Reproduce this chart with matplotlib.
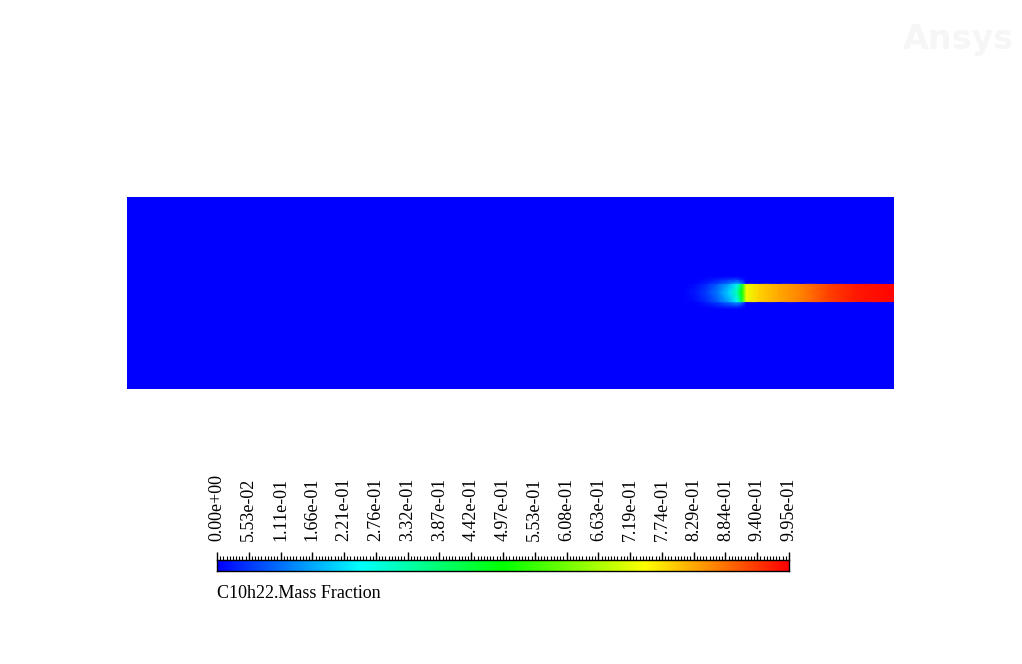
import numpy as np
import matplotlib.pyplot as plt
from matplotlib.colors import LinearSegmentedColormap
from matplotlib.ticker import FixedLocator

# domain 200 x 50 (mm), jet enters from the right
x_nodes = [0, 145, 148, 151, 154, 157, 159, 160.3, 161.5, 165, 170, 176, 183, 190, 200]
y_nodes = [0, 20.8, 21.6, 22.65, 22.8, 25.1, 27.4, 27.55, 28.6, 29.4, 50]

row_far = [0, 0, 0, 0, 0, 0, 0, 0, 0, 0, 0, 0, 0, 0, 0]
row_halo = [0, 0, 0, 0.01, 0.03, 0.05, 0.06, 0.03, 0, 0, 0, 0, 0, 0, 0]
row_out = [0, 0, 0, 0.03, 0.06, 0.11, 0.15, 0.12, 0, 0, 0, 0, 0, 0, 0]
row_edge = [0, 0, 0.01, 0.04, 0.09, 0.16, 0.24, 0.42, 0.72, 0.79, 0.83, 0.87, 0.93, 0.97, 0.99]
row_core = [0, 0, 0.02, 0.06, 0.12, 0.21, 0.33, 0.5, 0.73, 0.79, 0.83, 0.87, 0.93, 0.97, 0.99]

field = [row_far, row_far, row_halo, row_out, row_edge, row_core,
         row_edge, row_out, row_halo, row_far, row_far]

vmin, vmax = 0.0, 0.995
tick_labels = ['0.00e+00', '5.53e-02', '1.11e-01', '1.66e-01', '2.21e-01', '2.76e-01',
               '3.32e-01', '3.87e-01', '4.42e-01', '4.97e-01', '5.53e-01', '6.08e-01',
               '6.63e-01', '7.19e-01', '7.74e-01', '8.29e-01', '8.84e-01', '9.40e-01',
               '9.95e-01']

cmap = LinearSegmentedColormap.from_list(
    'fluent', [(0, (0, 0, 1)), (0.25, (0, 1, 1)), (0.5, (0, 1, 0)),
               (0.75, (1, 1, 0)), (1, (1, 0, 0))])

plt.rcParams['font.family'] = ['Liberation Serif', 'DejaVu Serif']

fig = plt.figure(figsize=(10.22, 6.64), dpi=100)
W, H = 1022, 664

# contour area
ax = fig.add_axes([127 / W, 1 - 389 / H, 767 / W, 192 / H])
X, Y = np.meshgrid(x_nodes, y_nodes)
ax.pcolormesh(X, Y, np.array(field), cmap=cmap, vmin=vmin, vmax=vmax, shading='gouraud')
ax.set_xlim(0, 200)
ax.set_ylim(0, 50)
ax.axis('off')

# colour bar
cax = fig.add_axes([217 / W, 1 - 571 / H, 572 / W, 11 / H])
grad = np.linspace(vmin, vmax, 512).reshape(1, -1)
cax.imshow(grad, cmap=cmap, aspect='auto', extent=[vmin, vmax, 0, 1])
cax.set_xlim(vmin, vmax)
ticks = np.linspace(vmin, vmax, len(tick_labels))
cax.xaxis.tick_top()
cax.set_xticks(ticks)
cax.set_xticklabels(tick_labels, rotation=90, fontsize=13)
cax.xaxis.set_minor_locator(FixedLocator(np.linspace(vmin, vmax, 181)))
cax.tick_params(axis='x', which='major', length=6, width=1, pad=8, direction='out')
cax.tick_params(axis='x', which='minor', length=3, width=0.8, direction='out')
cax.set_yticks([])
for s in cax.spines.values():
    s.set_linewidth(1)

fig.text(217 / W, 1 - 593 / H, 'C10h22.Mass Fraction', fontsize=13,
         va='center', ha='left')

fig.text(958 / W, 1 - 40 / H, 'Ansys', fontsize=24, fontweight='bold',
         color='#f6f6f6', ha='center', va='center', family='DejaVu Sans')

fig.savefig('out.png', dpi=100)
